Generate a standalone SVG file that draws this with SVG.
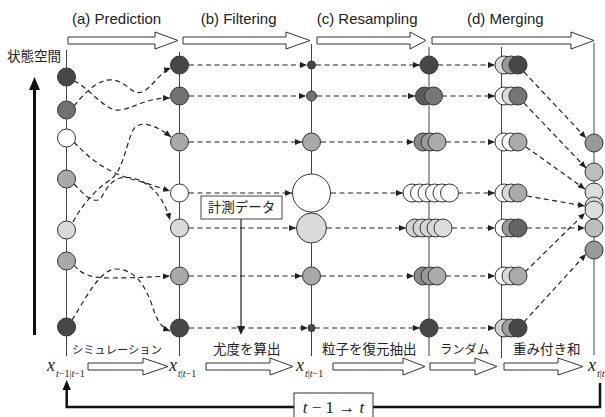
<svg xmlns="http://www.w3.org/2000/svg" width="605" height="417" viewBox="0 0 605 417">
<style>
.bg{fill:#fff}
.col{stroke:#444;stroke-width:1;fill:none}
.n{stroke:#333;stroke-width:1}
.d{fill:#474747}.m{fill:#727272}.g{fill:#a9a9a9}.l{fill:#dadada}.w{fill:#fff}
.c{fill:none;stroke:#222;stroke-width:1.2;stroke-dasharray:5,3.5;marker-end:url(#ah)}
.blk{fill:#fff;stroke:#333;stroke-width:1}
.hd{font-family:"Liberation Sans",Arial,sans-serif;font-size:15px;fill:#222}
.jp{font-family:"Noto Sans CJK JP",sans-serif;font-size:13.5px;fill:#222}
.mx{font-family:"Liberation Serif",serif;font-style:italic;font-size:18px;fill:#222}
.sb{font-family:"Liberation Serif",serif;font-size:10px;fill:#222}
.it{font-style:italic}
</style>
<defs>
<marker id="ah" markerWidth="7" markerHeight="6" refX="7" refY="3" orient="auto" markerUnits="userSpaceOnUse"><path d="M0,0 L7,3 L0,6 z" fill="#222"/></marker>
</defs>
<rect class="bg" width="605" height="417"/>

<!-- titles -->
<text class="hd" x="72" y="23.5">(a) Prediction</text>
<text class="hd" x="200.7" y="23.5">(b) Filtering</text>
<text class="hd" x="316.7" y="23.5">(c) Resampling</text>
<text class="hd" x="467" y="23.5">(d) Merging</text>
<polygon class="blk" points="68,37 155,37 155,32 178,40.5 155,49 155,44 68,44"/>
<polygon class="blk" points="183,37 286,37 286,32 310,40.5 286,49 286,44 183,44"/>
<polygon class="blk" points="317,37 410,37 410,32 426,40.5 410,49 410,44 317,44"/>
<polygon class="blk" points="432,37 571,37 571,32 594,40.5 571,49 571,44 432,44"/>

<text class="jp" x="7" y="61">状態空間</text>
<line x1="34.5" y1="335" x2="34.5" y2="88" stroke="#111" stroke-width="3"/>
<polygon points="34.5,77 29,90 40,90" fill="#111"/>

<!-- column lines -->
<g id="columns">
<line class="col" x1="66.5" y1="50" x2="66.5" y2="356"/>
<line class="col" x1="179.5" y1="52" x2="179.5" y2="356"/>
<line class="col" x1="311.5" y1="44" x2="311.5" y2="356"/>
<line class="col" x1="429" y1="47" x2="429" y2="356"/>
<line class="col" x1="501.5" y1="47" x2="501.5" y2="358"/>
<line class="col" x1="594" y1="43" x2="594" y2="355"/>
</g>

<!-- connectors -->
<g id="connectors">
<path class="c" d="M74,81 C90,88 105,112 120,110 C135,108 145,98 170,98"/>
<path class="c" d="M74,106 C85,92 100,78 113,80 C128,82 132,96 142,92 C152,88 160,72 171,68"/>
<path class="c" d="M74,142 C95,165 115,175 135,180 C150,184 160,188 170,191"/>
<path class="c" d="M73,222 C82,205 95,190 110,180 C122,172 125,150 132,132 C137,120 152,122 171,137"/>
<path class="c" d="M74,184 C82,192 90,202 98,200 C104,198 106,182 120,178 C140,174 162,190 170,220"/>
<path class="c" d="M74,265 C82,275 92,278 110,278 C135,278 150,277 170,276"/>
<path class="c" d="M72,320 C85,300 100,268 117,269 C135,270 145,285 152,305 C156,318 160,327 170,331"/>

<path class="c" d="M189,65 H307"/>
<path class="c" d="M189,96 H306"/>
<path class="c" d="M189,142 H302"/>
<path class="c" d="M189,193 H292"/>
<path class="c" d="M189,228 H296"/>
<path class="c" d="M189,276 H302"/>
<path class="c" d="M189,328 H308"/>

<path class="c" d="M316,65 H420"/>
<path class="c" d="M317,96 H415"/>
<path class="c" d="M321,142 H414"/>
<path class="c" d="M331,193 H403"/>
<path class="c" d="M327,228 H406"/>
<path class="c" d="M321,276 H414"/>
<path class="c" d="M315,328 H420"/>

<path class="c" d="M438,65 H495"/>
<path class="c" d="M442,96 H495"/>
<path class="c" d="M446,142 H495"/>
<path class="c" d="M458,193 H495"/>
<path class="c" d="M452,228 H495"/>
<path class="c" d="M446,276 H495"/>
<path class="c" d="M438,328 H495"/>

<path class="c" d="M524,72 L586,138"/>
<path class="c" d="M524,103 L586,168"/>
<path class="c" d="M526,147 L585,189"/>
<path class="c" d="M527,196 L585,206"/>
<path class="c" d="M527,228 H585"/>
<path class="c" d="M525,272 L585,213"/>
<path class="c" d="M524,322 L586,254"/>

<line x1="241" y1="219" x2="241" y2="327" stroke="#222" stroke-width="1.2"/>
<polygon points="241,335 237,326 245,326" fill="#222"/>

<path d="M66.7,389 V407 H600 V383" fill="none" stroke="#111" stroke-width="2.5"/>
<polygon points="66.7,380 62.5,390 70.9,390" fill="#111"/>
</g>

<!-- nodes -->
<g id="col0">
<circle class="n d" cx="66.5" cy="77" r="9"/>
<circle class="n m" cx="66.5" cy="110" r="9"/>
<circle class="n w" cx="66.5" cy="138" r="9"/>
<circle class="n g" cx="66.5" cy="179" r="9"/>
<circle class="n l" cx="66.5" cy="230" r="9"/>
<circle class="n g" cx="66.5" cy="261" r="9"/>
<circle class="n d" cx="66.5" cy="327" r="9"/>
</g>
<g id="col1">
<circle class="n d" cx="179.5" cy="65" r="9"/>
<circle class="n m" cx="179.5" cy="96" r="9"/>
<circle class="n g" cx="179.5" cy="142" r="9"/>
<circle class="n w" cx="179.5" cy="193" r="9"/>
<circle class="n l" cx="179.5" cy="228" r="9"/>
<circle class="n g" cx="179.5" cy="276" r="9"/>
<circle class="n d" cx="179.5" cy="328" r="9"/>
</g>
<g id="col2">
<circle class="n d" cx="311.5" cy="65" r="4"/>
<circle class="n m" cx="311.5" cy="96" r="5"/>
<circle class="n g" cx="311.5" cy="142" r="9"/>
<circle class="n w" cx="311.5" cy="193" r="19"/>
<circle class="n l" cx="311.5" cy="228" r="15"/>
<circle class="n g" cx="311.5" cy="276" r="9"/>
<circle class="n d" cx="311.5" cy="328" r="3.5"/>
</g>
<g id="col3">
<circle class="n d" cx="429" cy="65" r="9"/>
<circle class="n" fill="#5a5a5a" cx="424.5" cy="96" r="9"/>
<circle class="n" fill="#767676" cx="433.5" cy="96" r="9"/>
<circle class="n" fill="#8a8a8a" cx="423" cy="142" r="9"/>
<circle class="n" fill="#9a9a9a" cx="430" cy="142" r="9"/>
<circle class="n" fill="#ababab" cx="437" cy="142" r="9"/>
<circle class="n w" cx="412" cy="193" r="9"/>
<circle class="n w" cx="419.5" cy="193" r="9"/>
<circle class="n w" cx="427" cy="193" r="9"/>
<circle class="n w" cx="434.5" cy="193" r="9"/>
<circle class="n w" cx="442" cy="193" r="9"/>
<circle class="n w" cx="449.5" cy="193" r="9"/>
<circle class="n" fill="#d2d2d2" cx="415" cy="228" r="9"/>
<circle class="n" fill="#d4d4d4" cx="422" cy="228" r="9"/>
<circle class="n" fill="#d6d6d6" cx="429" cy="228" r="9"/>
<circle class="n" fill="#d8d8d8" cx="436" cy="228" r="9"/>
<circle class="n" fill="#dcdcdc" cx="443" cy="228" r="9"/>
<circle class="n" fill="#8a8a8a" cx="423" cy="276" r="9"/>
<circle class="n" fill="#9a9a9a" cx="430" cy="276" r="9"/>
<circle class="n" fill="#ababab" cx="437" cy="276" r="9"/>
<circle class="n d" cx="429" cy="328" r="9"/>
</g>
<g id="col4">
<circle class="n" fill="#dadada" cx="504" cy="65" r="9"/>
<circle class="n" fill="#999" cx="511" cy="65" r="9"/>
<circle class="n" fill="#474747" cx="518" cy="65" r="9"/>
<circle class="n w" cx="504" cy="96" r="9"/>
<circle class="n" fill="#dadada" cx="511" cy="96" r="9"/>
<circle class="n" fill="#747474" cx="518" cy="96" r="9"/>
<circle class="n w" cx="504" cy="142" r="9"/>
<circle class="n w" cx="511" cy="142" r="9"/>
<circle class="n" fill="#aaa" cx="518" cy="142" r="9"/>
<circle class="n w" cx="504" cy="193" r="9"/>
<circle class="n" fill="#dadada" cx="511" cy="193" r="9"/>
<circle class="n" fill="#aaa" cx="518" cy="193" r="9"/>
<circle class="n w" cx="504" cy="228" r="9"/>
<circle class="n" fill="#999" cx="511" cy="228" r="9"/>
<circle class="n" fill="#646464" cx="518" cy="228" r="9"/>
<circle class="n w" cx="504" cy="276" r="9"/>
<circle class="n" fill="#dadada" cx="511" cy="276" r="9"/>
<circle class="n" fill="#aaa" cx="518" cy="276" r="9"/>
<circle class="n" fill="#cfcfcf" cx="504" cy="328" r="9"/>
<circle class="n" fill="#a0a0a0" cx="511" cy="328" r="9"/>
<circle class="n" fill="#474747" cx="518" cy="328" r="9"/>
</g>
<g id="col5">
<circle class="n" fill="#999" cx="594" cy="143" r="9"/>
<circle class="n" fill="#bdbdbd" cx="594" cy="172" r="9"/>
<circle class="n" fill="#dcdcdc" cx="594" cy="192" r="9"/>
<circle class="n" fill="#dcdcdc" cx="594" cy="206" r="9"/>
<circle class="n" fill="#dcdcdc" cx="594" cy="210" r="9"/>
<circle class="n" fill="#bdbdbd" cx="594" cy="228" r="9"/>
<circle class="n" fill="#999" cx="594" cy="250" r="9"/>
</g>

<g id="measurement">
<rect x="201" y="196" width="81" height="23" fill="#fff" stroke="#444" stroke-width="1"/>
<text class="jp" x="241.5" y="212" text-anchor="middle">計測データ</text>
</g>

<!-- bottom process arrows -->
<g id="steps">
<polygon class="blk" points="88,363 143,363 143,358 168,366.5 143,375 143,370 88,370"/>
<polygon class="blk" points="206,363 270,363 270,358 293,366.5 270,375 270,370 206,370"/>
<polygon class="blk" points="333,363 403,363 403,358 425,366.5 403,375 403,370 333,370"/>
<polygon class="blk" points="430,363 475,363 475,358 497,366.5 475,375 475,370 430,370"/>
<polygon class="blk" points="504,363 558,363 558,358 583,366.5 558,375 558,370 504,370"/>
<text class="jp" x="72" y="354" style="font-size:11.3px">シミュレーション</text>
<text class="jp" x="213" y="354">尤度を算出</text>
<text class="jp" x="322" y="354">粒子を復元抽出</text>
<text class="jp" x="440" y="354" style="font-size:12.3px">ランダム</text>
<text class="jp" x="513" y="354">重み付き和</text>
</g>

<g id="labels">
<text class="mx" x="47" y="371">x</text>
<text class="sb" x="56" y="377"><tspan class="it">t</tspan>−1|<tspan class="it">t</tspan>−1</text>
<text class="mx" x="169" y="371">x</text>
<text class="sb" x="178" y="377"><tspan class="it">t</tspan>|<tspan class="it">t</tspan>−1</text>
<text class="mx" x="296" y="371">x</text>
<text class="sb" x="305" y="377"><tspan class="it">t</tspan>|<tspan class="it">t</tspan>−1</text>
<text class="mx" x="588" y="371">x</text>
<text class="sb" x="597" y="377"><tspan class="it">t</tspan>|<tspan class="it">t</tspan></text>
</g>

<g id="timestep">
<rect x="294" y="393" width="79" height="30" fill="#fff" stroke="#333" stroke-width="1"/>
<text x="333.5" y="413" text-anchor="middle" font-family="Liberation Serif, serif" font-size="17" fill="#222"><tspan font-style="italic">t</tspan> − 1 → <tspan font-style="italic">t</tspan></text>
</g>
</svg>
